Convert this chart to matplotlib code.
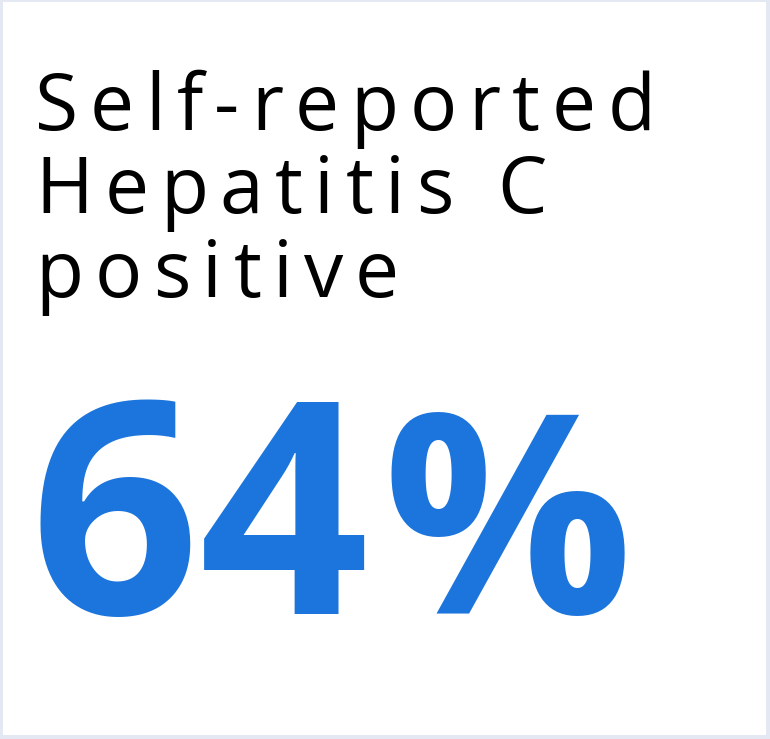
import matplotlib
matplotlib.use("Agg")
import matplotlib.pyplot as plt
from matplotlib import font_manager, ft2font
from matplotlib.patches import Rectangle

# datos de la tarjeta
titulo = ["Self-reported", "Hepatitis C", "positive"]
valor = 64
sufijo = "%"

W, H = 770, 739
DPI = 100

fig = plt.figure(figsize=(W / DPI, H / DPI), dpi=DPI)
fig.patch.set_facecolor("#e3e8f2")
fig.add_artist(Rectangle((3 / W, 4 / H), 763 / W, 733 / H,
                         transform=fig.transFigure, facecolor="white",
                         edgecolor="none"))


def avances(texto, familia, peso, tam):
    prop = font_manager.FontProperties(family=familia, weight=peso)
    fuente = ft2font.FT2Font(font_manager.findfont(prop))
    fuente.set_size(tam, DPI)
    return [fuente.load_char(ord(c)).linearHoriAdvance / 65536 for c in texto]


def texto_espaciado(texto, x, y, tam, espacio, familia="Open Sans",
                    peso="normal", color="black"):
    # matplotlib no tiene letter-spacing, se pone letra por letra
    adv = avances(texto, familia, peso, tam)
    for c, a in zip(texto, adv):
        if c != " ":
            fig.text(x / W, 1 - y / H, c, fontsize=tam, family=familia,
                     weight=peso, color=color, ha="left", va="baseline")
        x += a + espacio
    return x


base = [130, 213, 297]
for linea, yb in zip(titulo, base):
    texto_espaciado(linea, 35, yb, 56.5, 11.5)

azul = "#1c75dc"
x_fin = texto_espaciado(str(valor), 29, 614, 214, 0, peso="bold", color=azul)
texto_espaciado(sufijo, x_fin + 14, 614, 200, 0, peso="bold", color=azul)

fig.savefig("out.png", dpi=DPI)
